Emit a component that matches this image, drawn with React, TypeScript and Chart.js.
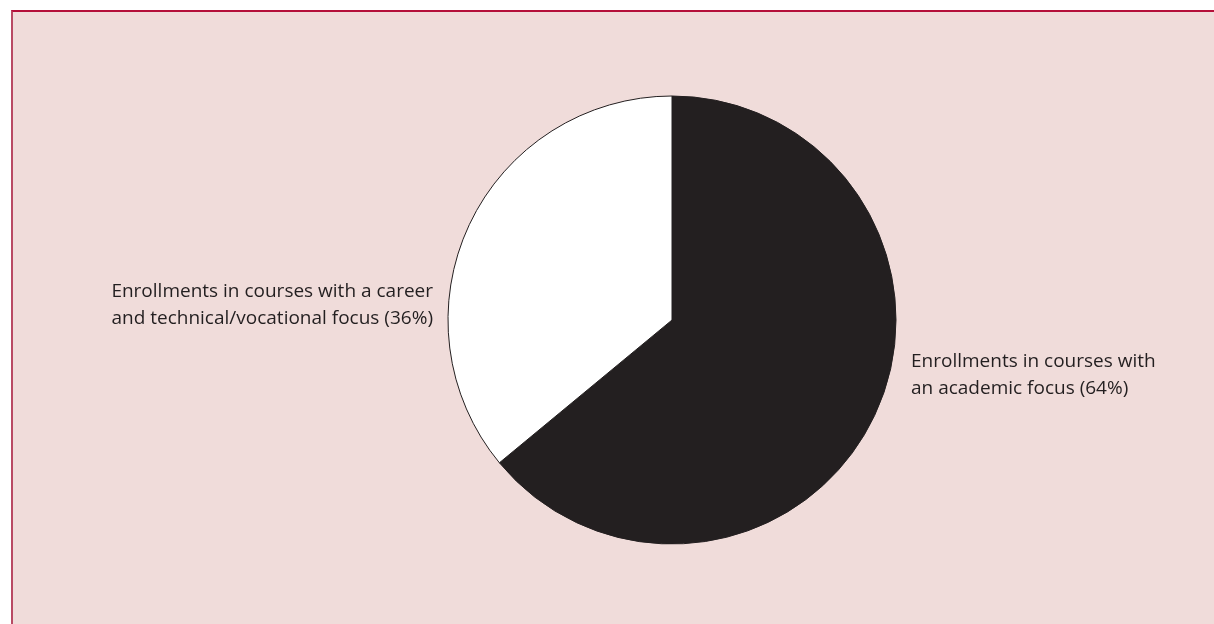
import React, { useEffect, useRef } from "react";
import { Chart, registerables } from "chart.js";

Chart.register(...registerables);

const categories = [
  "Enrollments in courses with an academic focus (64%)",
  "Enrollments in courses with a career and technical/vocational focus (36%)",
];
const values = [64, 36];
const labelLines = [
  ["Enrollments in courses with", "an academic focus (64%)"],
  ["Enrollments in courses with a career", "and technical/vocational focus (36%)"],
];
const colors = ["#231f20", "#ffffff"];

const FONT = "19px 'Open Sans'";

const labelPlugin = {
  id: "sliceLabels",
  afterDatasetsDraw(chart: any) {
    const ctx = chart.ctx;
    const meta = chart.getDatasetMeta(0);
    const arc0 = meta.data[0];
    const cx = arc0.x;
    const cy = arc0.y;
    const r = arc0.outerRadius;
    ctx.save();
    ctx.fillStyle = "#231f20";
    ctx.font = FONT;
    ctx.textBaseline = "middle";
    ctx.textAlign = "left";
    labelLines[0].forEach((t, i) => ctx.fillText(t, cx + r + 15, cy + 42 + i * 27));
    ctx.textAlign = "right";
    labelLines[1].forEach((t, i) => ctx.fillText(t, cx - r - 15, cy - 28 + i * 27));
    ctx.restore();
  },
};

export default function App() {
  const ref = useRef<HTMLCanvasElement>(null);
  useEffect(() => {
    if (!ref.current) return;
    const chart = new Chart(ref.current, {
      type: "pie",
      data: {
        labels: categories,
        datasets: [
          {
            data: values,
            backgroundColor: colors,
            borderColor: "#231f20",
            borderWidth: 1,
          },
        ],
      },
      options: {
        animation: false,
        responsive: false,
        radius: 224,
        layout: { padding: { left: 448, right: 318, top: 96, bottom: 80 } },
        plugins: { legend: { display: false }, tooltip: { enabled: false } },
      },
      plugins: [labelPlugin],
    });
    return () => chart.destroy();
  }, []);
  return (
    <div style={{ position: "fixed", left: 0, top: 0, width: 1214, height: 624, background: "#ffffff" }}>
      <div
        style={{
          position: "absolute",
          left: 11,
          top: 10,
          right: 0,
          bottom: 0,
          background: "#f0dcda",
          borderTop: "2px solid #b5103a",
          borderLeft: "2px solid #b94a64",
        }}
      />
      <canvas ref={ref} width={1214} height={624} style={{ position: "absolute", left: 0, top: 0 }} />
    </div>
  );
}
